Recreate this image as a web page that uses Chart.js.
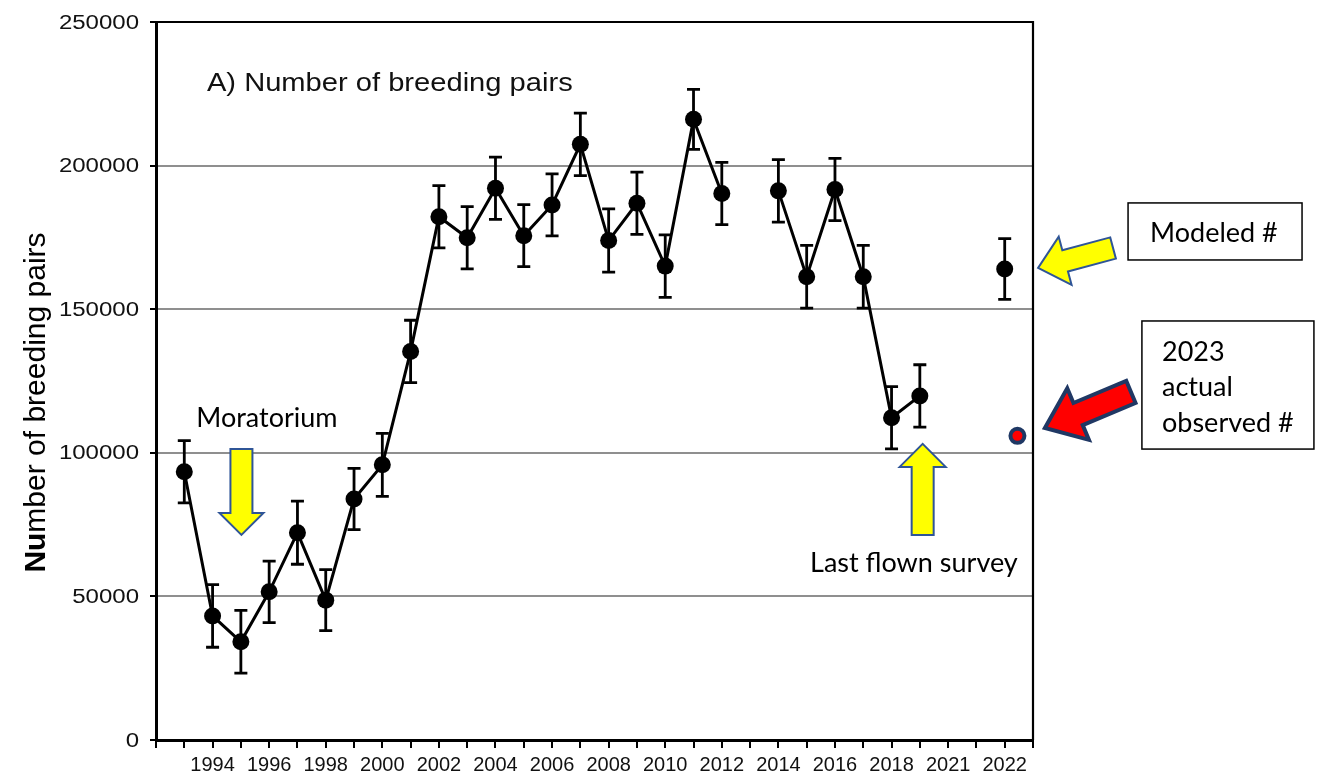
<!DOCTYPE html>
<html><head><meta charset="utf-8">
<script src="https://cdn.jsdelivr.net/npm/chart.js@4.4.1/dist/chart.umd.min.js"></script>
<style>html,body{margin:0;padding:0;background:#fff;}#wrap{width:1322px;height:776px;position:relative;}canvas{display:block;}</style>
</head><body><div id="wrap"><canvas id="c" width="1322" height="776" style="width:1322px;height:776px"></canvas></div>
<script>
// ---- data ----
const years  = [1993,1994,1995,1996,1997,1998,1999,2000,2001,2002,2003,2004,2005,2006,2007,2008,2009,2010,2011,2012,2013,2014,2015,2016,2017,2018,2019,2020,2021,2022];
const pairs  = [93400,43200,34200,51600,72200,48700,83900,95800,135300,182200,174900,192100,175600,186300,207400,173900,186900,165000,216100,190300,null,191200,161300,191700,161300,112200,119800,null,null,164000];
const errors = [10850,10900,10900,10700,11000,10600,10650,10950,10850,10850,10850,10850,10800,10800,10900,11000,10850,10850,10450,10850,null,10850,10950,10850,10950,10850,10850,null,null,10600];
const observedYearPos = [2022.45];
const observedValue   = [105900];
// x-axis tick labels as printed on the figure
const tickYears  = [1994,1996,1998,2000,2002,2004,2006,2008,2010,2012,2014,2016,2018,2020,2022];
const tickLabels = ['1994','1996','1998','2000','2002','2004','2006','2008','2010','2012','2014','2016','2018','2021','2022'];
const yTicks = [0,50000,100000,150000,200000,250000];

const FONT_AX = "'Liberation Sans', Arial, sans-serif";
const FONT_NOTE = "Lato, 'Open Sans', sans-serif";

const lineData = years.map((yr,i)=>({x:yr, y:pairs[i]}));
const obsData = observedYearPos.map((x,i)=>({x:x, y:observedValue[i]}));

function arrow(ctx, x1,y1,x2,y2, sw, hw, hl, fill, stroke, lw){
  const L = Math.hypot(x2-x1,y2-y1), a = Math.atan2(y2-y1,x2-x1);
  ctx.save(); ctx.translate(x1,y1); ctx.rotate(a);
  ctx.beginPath();
  ctx.moveTo(0,-sw/2); ctx.lineTo(L-hl,-sw/2); ctx.lineTo(L-hl,-hw/2); ctx.lineTo(L,0);
  ctx.lineTo(L-hl,hw/2); ctx.lineTo(L-hl,sw/2); ctx.lineTo(0,sw/2); ctx.closePath();
  ctx.fillStyle=fill; ctx.fill(); ctx.lineJoin='miter'; ctx.strokeStyle=stroke; ctx.lineWidth=lw; ctx.stroke();
  ctx.restore();
}

const errorBars = {
  id:'errorBars',
  afterDatasetsDraw(chart){
    const {ctx, scales:{x,y}} = chart;
    ctx.save(); ctx.strokeStyle='#000'; ctx.lineWidth=2.8;
    years.forEach((yr,i)=>{
      if(pairs[i]==null) return;
      const px=x.getPixelForValue(yr), top=y.getPixelForValue(pairs[i]+errors[i]), bot=y.getPixelForValue(pairs[i]-errors[i]);
      ctx.beginPath(); ctx.moveTo(px,top); ctx.lineTo(px,bot);
      ctx.moveTo(px-6.5,top); ctx.lineTo(px+6.5,top);
      ctx.moveTo(px-6.5,bot); ctx.lineTo(px+6.5,bot); ctx.stroke();
    });
    ctx.restore();
  }
};

// y tick labels of the figure are drawn horizontally stretched; positions come from the y scale
const yLabels = {
  id:'yLabels',
  afterDraw(chart){
    const {ctx, scales:{y}} = chart;
    ctx.save(); ctx.fillStyle='#111'; ctx.font="20px "+FONT_AX; ctx.textAlign='right'; ctx.textBaseline='middle';
    y.ticks.forEach(t=>{
      ctx.save(); ctx.translate(y.right-17, y.getPixelForValue(t.value)+1); ctx.scale(1.2,1);
      ctx.fillText(String(t.value),0,0); ctx.restore();
    });
    ctx.restore();
  }
};

const passY = 117500; // vertical centre of the y-axis title, in axis units

const decor = {
  id:'decor',
  afterDraw(chart){
    const {ctx, chartArea:ca, scales:{x,y}} = chart;
    const X=v=>x.getPixelForValue(v), Y=v=>y.getPixelForValue(v);
    ctx.save();
    ctx.strokeStyle='#000'; ctx.lineWidth=2.2;
    ctx.beginPath(); ctx.moveTo(ca.left,ca.top); ctx.lineTo(ca.right,ca.top); ctx.lineTo(ca.right,ca.bottom); ctx.stroke();
    ctx.fillStyle='#111'; ctx.textBaseline='middle'; ctx.textAlign='left';
    ctx.save(); ctx.translate(X(1993.80), Y(228400)); ctx.scale(1.12,1);
    ctx.font="26px "+FONT_AX; ctx.fillText('A) Number of breeding pairs',0,0); ctx.restore();
    ctx.save(); ctx.translate(37, Y(passY)); ctx.rotate(-Math.PI/2);
    ctx.font="bold 30px "+FONT_AX; const w1=ctx.measureText('Nu').width;
    ctx.font="30px "+FONT_AX; const w2=ctx.measureText('mber of breeding pairs').width;
    let sx=-(w1+w2)/2; ctx.textAlign='left'; ctx.fillStyle='#000';
    ctx.font="bold 30px "+FONT_AX; ctx.fillText('Nu',sx,0);
    ctx.font="30px "+FONT_AX; ctx.fillText('mber of breeding pairs',sx+w1,0);
    ctx.restore();
    arrow(ctx, X(1995.02),Y(101300), X(1995.02),Y(71400), 22,44,22,'#FFFF00','#2F5597',2);
    arrow(ctx, X(2019.1),Y(71400), X(2019.1),Y(103100), 22,46,23,'#FFFF00','#2F5597',2);
    arrow(ctx, X(2025.83),Y(171300), X(2023.18),Y(164350), 22,50,28,'#FFFF00','#2F5597',2);
    arrow(ctx, X(2026.46),Y(121200), X(2023.42),Y(108650), 24,56,36,'#FF0000','#203864',4);
    ctx.fillStyle='#000'; ctx.font="27px "+FONT_NOTE; ctx.textBaseline='middle';
    ctx.textAlign='center';
    ctx.fillText('Moratorium', X(1995.92), Y(112100));
    ctx.fillText('Last flown survey', X(2018.79), Y(61630));
    ctx.strokeStyle='#000'; ctx.lineWidth=1.5;
    ctx.strokeRect(X(2026.36),Y(187000),X(2032.51)-X(2026.36),Y(167140)-Y(187000));
    ctx.strokeRect(X(2026.85),Y(145900),X(2032.93)-X(2026.85),Y(101300)-Y(145900));
    ctx.textAlign='left';
    ctx.fillText('Modeled #', X(2027.14), Y(176500));
    ctx.fillText('2023', X(2027.56), Y(135100));
    ctx.fillText('actual', X(2027.56), Y(122900));
    ctx.fillText('observed #', X(2027.56), Y(110400));
    ctx.restore();
  }
};

new Chart(document.getElementById('c'), {
  type:'line',
  data:{datasets:[
    {data:lineData, borderColor:'#000', borderWidth:3, pointRadius:8.5, pointBackgroundColor:'#000', pointBorderWidth:0, tension:0, spanGaps:false, order:2},
    {data:obsData, showLine:false, pointRadius:7, pointBorderWidth:4, pointBorderColor:'#1F3864', pointBackgroundColor:'#FF0000', order:1}
  ]},
  options:{
    responsive:false, animation:false, devicePixelRatio:1,
    layout:{padding:{top:22,right:289,left:0,bottom:0}},
    plugins:{legend:{display:false}, tooltip:{enabled:false}},
    scales:{
      x:{type:'linear', min:1992, max:2023,
        afterBuildTicks(s){ s.ticks = []; for(let v=1992; v<=2023; v++) s.ticks.push({value:v}); },
        afterFit(s){ s.height=36; },
        ticks:{autoSkip:false, maxRotation:0, padding:5, color:'#111', font:{family:FONT_AX,size:20},
          callback:(v)=>{const k=tickYears.indexOf(v); return k>=0?tickLabels[k]:'';}},
        grid:{drawOnChartArea:false, tickLength:8, tickColor:'#000', lineWidth:2},
        border:{display:true,color:'#000',width:3}
      },
      y:{min:0, max:250000,
        afterBuildTicks(s){ s.ticks = yTicks.map(v=>({value:v})); },
        afterFit(s){ s.width=156; },
        ticks:{padding:10, color:'rgba(0,0,0,0)', font:{family:FONT_AX, size:20}, callback:v=>String(v)},
        grid:{color:c=>(c.tick&&(c.tick.value===0||c.tick.value===250000))?'rgba(0,0,0,0)':'#8f8f8f', lineWidth:2, tickLength:6, tickColor:'#000'},
        border:{display:true,color:'#000',width:3}
      }
    }
  },
  plugins:[errorBars, yLabels, decor]
});
</script></body></html>
